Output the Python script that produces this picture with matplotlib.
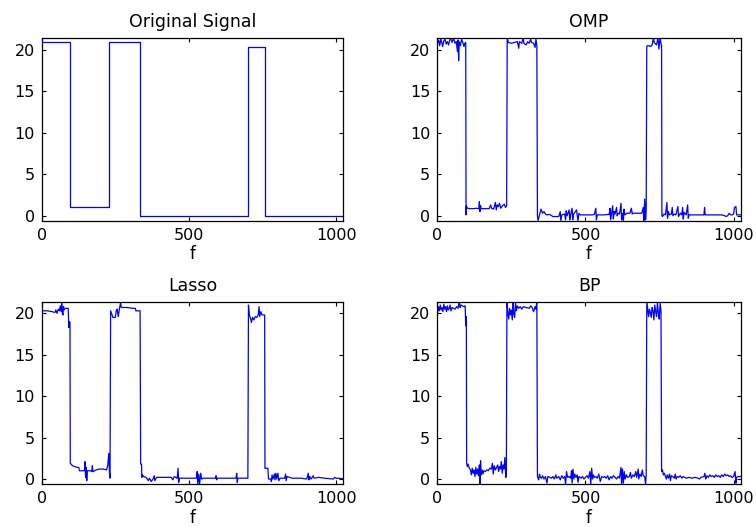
import numpy as np
import matplotlib
matplotlib.use("Agg")
import matplotlib.pyplot as plt

plt.rcParams['font.family'] = ['DejaVu Sans']

# original piecewise-constant signal: block edges and levels
orig_edges = [1, 97, 230, 334, 701, 758, 1024]
orig_levels = [21.0, 1.0, 21.0, 0.0, 20.4, 0.0]

# recovered signals (sample index, amplitude)
omp_x = [1, 5, 8, 12, 15, 18, 22, 26, 30, 34, 38, 42, 46, 50, 55, 60, 64, 68, 70, 72,
         74, 78, 82, 86, 90, 93, 96, 97, 98, 102, 110, 120, 130, 140, 142, 144, 146, 148, 160, 175,
         180, 183, 190, 196, 199, 202, 206, 210, 214, 220, 226, 230, 234, 236, 240, 250, 260, 270, 275, 277,
         285, 290, 292, 300, 305, 310, 315, 318, 325, 330, 333, 336, 338, 340, 345, 350, 355, 360, 365, 370,
         380, 390, 400, 410, 415, 417, 420, 430, 433, 435, 438, 445, 447, 450, 455, 457, 460, 470, 472, 475,
         478, 482, 490, 500, 510, 520, 530, 535, 537, 540, 560, 580, 583, 585, 588, 592, 594, 597, 600, 605,
         607, 610, 615, 620, 622, 625, 628, 630, 633, 640, 650, 655, 658, 660, 680, 690, 695, 697, 700, 703,
         705, 707, 708, 715, 720, 725, 730, 732, 740, 745, 748, 752, 755, 757, 758, 760, 765, 770, 775, 777,
         780, 783, 790, 793, 795, 800, 805, 812, 814, 820, 825, 828, 830, 833, 840, 845, 847, 850, 860, 880,
         900, 902, 904, 920, 940, 960, 970, 975, 980, 985, 990, 995, 1000, 1003, 1008, 1010, 1015, 1024]
omp_y = [20.8, 21.2, 20.5, 21.3, 20.9, 20.4, 21.1, 21.3, 20.7, 21.0, 20.6, 21.2, 21.3, 20.9, 21.4, 20.8, 21.0, 19.8, 21.2, 18.7,
         21.0, 20.5, 21.3, 20.9, 20.4, 20.8, 20.9, 0.1, 1.2, 0.9, 0.85, 0.85, 0.9, 0.85, 1.7, 0.5, 1.2, 0.85, 0.85, 0.85,
         1.3, 0.9, 0.8, 1.6, 0.7, 1.3, 1.1, 1.5, 0.9, 1.2, 1.4, 1.0, 1.2, 21.5, 20.9, 20.8, 20.9, 21.0, 20.2, 21.0,
         20.8, 21.5, 20.8, 20.6, 21.0, 20.8, 21.3, 20.9, 20.8, 20.3, 21.3, 20.5, 0.0, -0.6, 0.1, 0.8, 0.3, 0.5, 0.2, 0.1,
         0.15, -0.1, -0.1, -0.1, 0.5, -0.6, 0.1, 0.2, -0.5, 0.6, 0.0, 0.7, -0.5, 0.1, 0.9, -0.5, 0.2, 0.7, 0.1, -0.6,
         0.3, 0.1, 0.1, 0.1, 0.1, 0.1, 0.15, 0.9, -0.5, 0.1, 0.1, 0.15, 0.9, -0.5, 0.2, 1.2, -0.4, 0.5, 0.2, 1.0,
         0.0, 0.3, 0.2, 1.5, -0.5, 0.3, -0.6, 0.8, 0.1, 0.3, 0.3, 0.9, 0.2, 0.3, 0.3, 0.3, 1.0, -0.6, 2.0, -0.5,
         0.5, 20.3, 20.5, 20.5, 20.4, 20.6, 21.5, 20.9, 20.6, 21.5, 20.1, 21.5, 20.8, 20.5, 0.0, -0.1, 0.2, 0.1, 1.6, -0.3,
         0.5, 0.1, 0.2, 1.0, 0.0, 0.2, 0.1, 1.1, -0.1, 0.3, 0.1, 1.0, -0.4, 0.4, 0.1, 1.3, -0.3, 0.1, 0.1, 0.1,
         0.1, 1.0, 0.1, 0.1, 0.1, 0.1, 0.0, -0.1, 0.0, 0.3, 0.1, 0.1, 0.2, 1.0, 1.1, 0.1, 0.1, 0.1]

lasso_x = [1, 20, 35, 45, 48, 52, 56, 60, 63, 66, 68, 70, 72, 74, 76, 80, 90, 92, 94, 96,
           97, 105, 112, 120, 126, 128, 140, 145, 147, 149, 151, 153, 155, 165, 170, 172, 174, 185, 195, 210,
           220, 224, 226, 228, 230, 232, 234, 238, 242, 250, 253, 256, 260, 264, 268, 270, 290, 310, 318, 320,
           334, 336, 339, 340, 342, 346, 355, 362, 366, 372, 378, 382, 384, 390, 420, 440, 445, 450, 460, 463,
           465, 468, 500, 525, 528, 530, 533, 536, 540, 543, 550, 590, 592, 594, 596, 650, 660, 662, 664, 666,
           700, 702, 705, 710, 712, 716, 720, 725, 730, 735, 738, 740, 744, 748, 757, 758, 768, 770, 778, 780,
           782, 785, 790, 792, 795, 798, 802, 805, 810, 825, 828, 830, 833, 850, 880, 900, 905, 907, 910, 915,
           922, 925, 940, 960, 990, 995, 1000, 1024]
lasso_y = [20.3, 20.3, 20.2, 20.1, 20.4, 20.0, 20.5, 20.3, 20.9, 20.2, 21.2, 20.1, 19.8, 20.8, 20.4, 20.6, 20.6, 18.3, 19.0, 18.9,
           1.9, 1.6, 1.5, 1.4, 1.4, 1.0, 1.0, 1.0, 2.1, 0.2, 1.4, -0.2, 1.0, 1.0, 0.9, 1.6, 0.9, 1.1, 1.2, 1.2,
           1.1, 1.6, 2.3, 3.1, 0.8, 0.1, 20.3, 19.9, 19.5, 19.5, 20.3, 20.5, 19.6, 20.6, 21.3, 20.7, 20.7, 20.6, 20.6, 20.3,
           20.3, 1.8, 1.8, 0.2, 0.5, 0.3, 0.2, -0.2, 0.1, -0.3, 0.0, 0.4, -0.2, 0.2, 0.2, 0.2, -0.1, 0.3, 0.1, 1.3,
           -0.4, 0.1, 0.1, 0.1, 0.9, -0.6, 0.6, -0.6, 0.7, 0.0, 0.1, 0.1, 0.4, -0.1, 0.1, 0.1, 0.1, 0.7, -0.4, 0.1,
           0.1, 21.0, 19.8, 19.3, 18.9, 19.5, 19.2, 19.6, 19.5, 19.8, 20.8, 19.6, 20.2, 19.8, 19.8, 1.3, 1.3, 0.0, 0.0, -0.3,
           0.5, 0.0, 0.6, -0.1, 0.7, 0.0, 0.7, -0.2, 0.1, 0.1, 0.6, -0.2, 0.3, 0.1, 0.1, 0.0, 0.7, -0.1, 0.3, 0.0,
           0.4, 0.1, 0.2, 0.1, 0.0, 0.2, 0.1, 0.05]

bp_x = [1, 4, 7, 10, 13, 16, 19, 22, 25, 28, 31, 34, 37, 40, 43, 46, 50, 55, 60, 65,
        70, 74, 77, 80, 85, 90, 94, 96, 98, 99, 101, 104, 108, 112, 115, 118, 121, 124, 127, 130,
        133, 136, 139, 142, 144, 146, 148, 151, 154, 157, 162, 167, 172, 177, 182, 186, 189, 192, 196, 200,
        204, 207, 210, 213, 216, 219, 222, 225, 228, 231, 233, 235, 238, 241, 244, 247, 250, 253, 256, 258,
        261, 264, 267, 270, 275, 280, 285, 290, 300, 310, 315, 320, 325, 330, 333, 336, 338, 342, 345, 348,
        352, 355, 360, 365, 370, 373, 380, 385, 390, 395, 400, 403, 410, 415, 420, 425, 430, 433, 436, 440,
        445, 450, 453, 455, 458, 461, 464, 468, 472, 475, 478, 485, 490, 495, 500, 505, 510, 515, 518, 521,
        524, 527, 530, 535, 540, 545, 550, 555, 560, 565, 570, 575, 580, 585, 590, 595, 600, 605, 610, 615,
        620, 622, 625, 628, 631, 634, 638, 642, 648, 652, 655, 660, 665, 670, 673, 678, 680, 684, 688, 692,
        695, 700, 703, 705, 707, 710, 713, 716, 719, 722, 725, 728, 731, 734, 737, 740, 743, 746, 749, 752,
        755, 757, 760, 763, 766, 770, 773, 776, 780, 784, 787, 790, 795, 800, 803, 806, 810, 815, 820, 825,
        830, 835, 840, 850, 860, 870, 880, 885, 890, 900, 903, 906, 910, 915, 920, 925, 930, 935, 940, 945,
        950, 955, 960, 965, 970, 975, 980, 985, 990, 995, 1000, 1005, 1008, 1010, 1015, 1024]
bp_y = [20.1, 20.8, 20.3, 21.0, 20.4, 20.7, 20.2, 21.1, 20.5, 20.8, 20.2, 20.9, 20.4, 20.6, 21.0, 20.3, 20.7, 20.6, 20.5, 20.8,
        20.6, 21.5, 20.7, 21.0, 20.9, 20.8, 20.9, 18.5, 19.6, 2.0, 1.5, 1.8, 1.3, 1.1, 0.5, 1.3, 0.7, 1.1, 0.3, 1.4,
        0.6, 1.2, 0.4, 1.7, -0.6, 2.2, 0.5, 1.1, 0.6, 1.0, 0.9, 1.1, 1.0, 1.3, 1.2, 1.9, 0.6, 1.6, 1.1, 1.4,
        1.7, 0.9, 1.5, 1.2, 2.1, 0.7, 1.7, 1.2, 2.6, 0.2, 0.4, 21.5, 20.1, 19.3, 20.6, 19.8, 20.4, 19.2, 21.5, 20.0,
        19.5, 21.2, 20.3, 20.9, 20.6, 20.8, 20.5, 20.8, 20.7, 20.6, 20.9, 20.7, 20.2, 20.8, 20.5, 21.5, 0.3, -0.1, 0.6, 0.2,
        0.1, 0.4, 0.0, 0.3, -0.5, 0.3, 0.2, 0.1, 0.3, 0.0, 0.5, 0.1, 0.3, -0.1, 0.4, 0.1, 0.3, -0.6, 0.9, 0.2,
        0.3, 0.1, 1.0, -0.5, 1.2, 0.0, 0.6, 0.2, 0.5, -0.4, 0.3, 0.1, 0.3, 0.0, 0.2, 0.4, 0.1, 0.9, -0.6, 1.3,
        0.0, 0.5, 0.2, 0.3, 0.1, 0.6, -0.3, 0.3, 0.2, 0.3, 0.1, 0.4, -0.1, 0.3, 0.1, 0.4, 0.2, 0.0, 0.3, 0.1,
        1.4, -0.6, 1.2, -0.5, 0.9, 0.0, 0.5, 0.2, 0.3, 0.8, 0.1, 0.5, 0.3, 0.9, 0.2, 1.2, 0.0, 0.6, 0.3, 1.1,
        0.4, 0.3, -0.6, 0.5, 21.5, 20.6, 19.6, 20.5, 20.1, 19.5, 20.7, 20.3, 19.2, 21.0, 20.2, 19.6, 21.3, 20.0, 19.3, 21.2,
        20.3, 0.9, 1.1, 0.5, 0.7, 0.3, 0.0, 0.5, 0.1, 0.6, -0.2, 0.4, 0.3, 0.1, 0.6, 0.0, 0.3, 0.2, 0.4, 0.1,
        0.3, 0.2, 0.1, 0.2, 0.1, 0.2, 0.1, 0.0, 0.2, 0.3, 0.7, 0.0, 0.4, 0.2, 0.5, 0.3, 0.4, 0.2, 0.5, 0.3,
        0.4, 0.2, 0.5, 0.3, 0.6, 0.4, 0.5, 0.3, 0.4, 0.2, 0.3, 0.9, -0.5, 0.2, 0.3, 0.3]

titles = ["Original Signal", "OMP", "Lasso", "BP"]

W, H = 756, 527
fig = plt.figure(figsize=(W / 100, H / 100), dpi=100)

# axes boxes in pixels: (left, top, right, bottom)
boxes = [(41.7, 38.3, 343.3, 220.7), (437.3, 38.3, 740.7, 220.7),
         (41.7, 301.7, 343.3, 484.0), (437.3, 301.7, 740.7, 484.0)]

orig_x = np.repeat(orig_edges, 2)[1:-1]
orig_y = np.repeat(orig_levels, 2)
series = [(orig_x, orig_y), (omp_x, omp_y), (lasso_x, lasso_y), (bp_x, bp_y)]

for (l, t, r, b), title, (xs, ys) in zip(boxes, titles, series):
    ax = fig.add_axes([l / W, 1 - b / H, (r - l) / W, (b - t) / H])
    ax.plot(xs, ys, color='blue', lw=0.9)
    ax.set_xlim(0, 1024)
    ax.set_ylim(-0.6, 21.4)
    ax.set_xticks([0, 500, 1000])
    ax.set_yticks([0, 5, 10, 15, 20])
    ax.tick_params(direction='in', length=3, width=0.8, top=True, right=True,
                   labelsize=11.5, pad=5)
    for s in ax.spines.values():
        s.set_linewidth(0.9)
    ax.set_title(title, fontsize=12.5, pad=8)
    ax.set_xlabel("f", fontsize=12, labelpad=2)

fig.savefig("out.png", dpi=100)
